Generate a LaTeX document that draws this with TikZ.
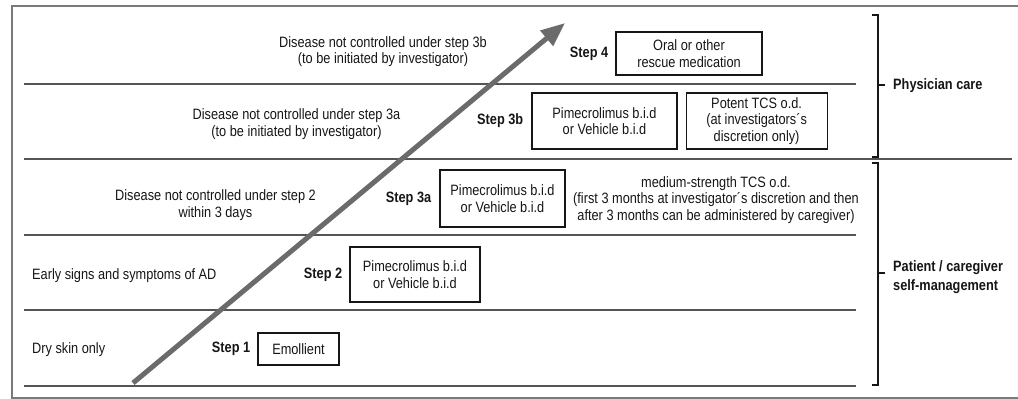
\documentclass[tikz,border=0pt]{standalone}
\usepackage{fontspec}
\setmainfont{Liberation Sans}[FakeStretch=0.85]
\usetikzlibrary{arrows.meta,positioning}
\definecolor{ink}{HTML}{161616}
\definecolor{rule}{HTML}{555555}
\definecolor{frame}{HTML}{7A7A7A}
\definecolor{trend}{HTML}{6B6B6B}
\tikzset{
  x=1pt, y=-1pt,
  txt/.style={font=\fontsize{15}{16.5}\selectfont, text=ink, align=center, inner sep=0pt},
  condition/.style={txt},
  steptag/.style={txt, font=\fontsize{15}{16.5}\selectfont\bfseries},
  drug/.style={txt, draw=ink, line width=1.1pt, minimum height=56pt},
  groupname/.style={txt, font=\fontsize{15}{19}\selectfont\bfseries, align=left, anchor=west},
  row/.style={draw=rule, line width=1.2pt},
  border/.style={draw=frame, line width=1.5pt},
  brace/.style={draw=ink, line width=1.8pt},
  trendarrow/.style={-{Triangle[length=24pt,width=19pt]}, draw=trend, line width=5pt}
}
\begin{document}
\begin{tikzpicture}
  \useasboundingbox (0,0) rectangle (1018,399);

  % frame and rows
  \draw[border] (1018,6) -- (12,6) -- (12,398) -- (1018,398);
  \foreach \y in {84,235,310,386} {
    \draw[row] (24,\y) -- (856,\y);
  }
  \draw[row] (24,159) -- (1012,159);

  % treatment boxes
  \node[drug, minimum width=146pt, minimum height=43pt] (rescue) at (689,53.5) {Oral or other\\rescue medication};
  \node[drug, minimum width=145pt] (pime3b) at (604.5,121) {Pimecrolimus b.i.d\\or Vehicle b.i.d};
  \node[drug, minimum width=141pt, right=8pt of pime3b] (potent) {Potent TCS o.d.\\(at investigators´s\\discretion only)};
  \node[drug, minimum width=125pt, minimum height=57pt] (pime3a) at (502.5,198.5) {Pimecrolimus b.i.d\\or Vehicle b.i.d};
  \node[drug, minimum width=130pt, minimum height=55pt] (pime2) at (415,274.5) {Pimecrolimus b.i.d\\or Vehicle b.i.d};
  \node[drug, minimum width=81pt, minimum height=32pt] (emollient) at (298.5,349) {Emollient};

  % step tags
  \node[steptag, left=7pt of rescue] (step4) {Step 4};
  \node[steptag, left=8pt of pime3b] (step3b) {Step 3b};
  \node[steptag, left=8pt of pime3a] (step3a) {Step 3a};
  \node[steptag, left=7pt of pime2] (step2) {Step 2};
  \node[steptag, left=7pt of emollient] (step1) {Step 1};

  % conditions
  \node[condition] (cond3b) at (383,51.5) {Disease not controlled under step 3b\\(to be initiated by investigator)};
  \node[condition] (cond3a) at (296.5,124) {Disease not controlled under step 3a\\(to be initiated by investigator)};
  \node[condition] (cond2) at (215.5,205) {Disease not controlled under step 2\\within 3 days};
  \node[condition, anchor=west] (cond1) at (32,276) {Early signs and symptoms of AD};
  \node[condition, anchor=west] (cond0) at (32,350) {Dry skin only};
  \node[condition] (medium) at (716,200) {medium-strength TCS o.d.\\(first 3 months at investigator´s discretion and then\\after 3 months can be administered by caregiver)};

  % escalation arrow
  \coordinate (trendstart) at (133,383);
  \coordinate (trendtip) at (565,23);
  \draw[trendarrow] (trendstart) -- (trendtip);

  % care levels
  \draw[brace] (872,15) -- (878,15) -- (878,157) -- (872,157);
  \draw[brace] (878,85) -- (885,85);
  \node[groupname] (physician) at (893,86) {Physician care};
  \draw[brace] (872,163) -- (878,163) -- (878,385) -- (872,385);
  \draw[brace] (878,273) -- (885,273);
  \node[groupname] (selfcare) at (893,277) {Patient / caregiver\\self-management};
\end{tikzpicture}
\end{document}
